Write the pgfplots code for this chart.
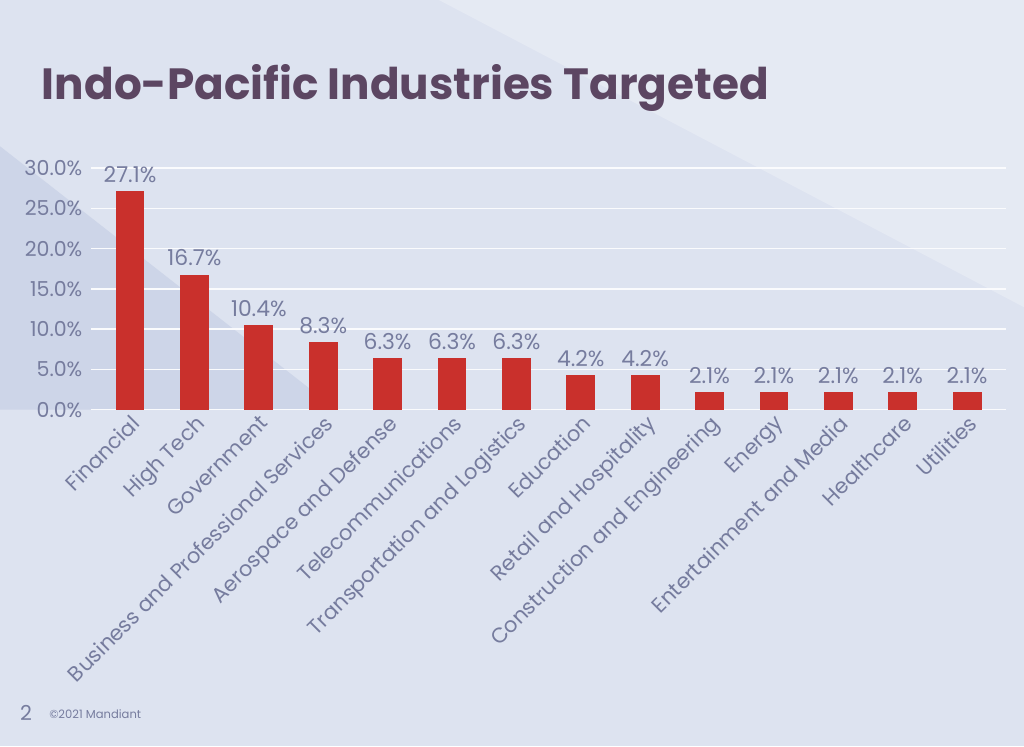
\documentclass[border=0pt]{standalone}
\usepackage{pgfplots}
\pgfplotsset{compat=1.18}
\usepackage{fontspec}
\setmainfont{Poppins}
\definecolor{bg}{RGB}{221,227,240}
\definecolor{bgdark}{RGB}{205,213,232}
\definecolor{barred}{RGB}{201,48,44}
\definecolor{titlec}{RGB}{92,70,98}
\definecolor{tickc}{RGB}{118,124,158}
\begin{document}
\begin{tikzpicture}
\path[use as bounding box] (0,0) rectangle (14,10.2);
\fill[bg] (0,0) rectangle (14,10.2);
\fill[bgdark] (0,8.2) -- (4.6,4.6) -- (0,4.6) -- cycle;
\fill[white,opacity=0.25] (6,10.2) -- (14,10.2) -- (14,6) -- cycle;
\begin{axis}[
  at={(1.25cm,4.6cm)}, anchor=south west,
  scale only axis, width=12.5cm, height=3.3cm,
  ybar, bar width=0.38cm,
  xmin=-0.6, xmax=13.6, ymin=0, ymax=30,
  xtick=data,
  xticklabels={Financial,High Tech,Government,Business and Professional Services,Aerospace and Defense,Telecommunications,Transportation and Logistics,Education,Retail and Hospitality,Construction and Engineering,Energy,Entertainment and Media,Healthcare,Utilities},
  x tick label style={rotate=45,anchor=north east,font=\fontsize{8.2}{10}\selectfont,text=tickc,inner sep=1pt},
  ytick={0,5,10,15,20,25,30},
  yticklabel={\pgfmathprintnumber[fixed,fixed zerofill,precision=1]{\tick}\%},
  y tick label style={font=\fontsize{8}{10}\selectfont,text=tickc},
  /pgf/number format/assume math mode=true,
  ymajorgrids, grid style={white!85!bg, line width=0.6pt},
  axis line style={draw=none}, major tick length=0pt,
  nodes near coords={\pgfmathprintnumber[fixed,fixed zerofill,precision=1]{\pgfplotspointmeta}\%},
  nodes near coords style={font=\fontsize{8.5}{10}\selectfont,text=tickc},
  clip=false,
]
\addplot[fill=barred,draw=barred] coordinates {
(0,27.1) (1,16.7) (2,10.4) (3,8.3) (4,6.3) (5,6.3) (6,6.3) (7,4.2) (8,4.2) (9,2.1) (10,2.1) (11,2.1) (12,2.1) (13,2.1)};
\end{axis}
\node[anchor=west,text=titlec,font=\bfseries\fontsize{17}{20}\selectfont] at (0.45,9.0) {Indo-Pacific Industries Targeted};
\node[anchor=west,text=tickc,font=\fontsize{8}{10}\selectfont] at (0.15,0.45) {2};
\node[anchor=west,text=tickc,font=\fontsize{4.5}{5}\selectfont] at (0.55,0.43) {©2021 Mandiant};
\end{tikzpicture}
\end{document}
